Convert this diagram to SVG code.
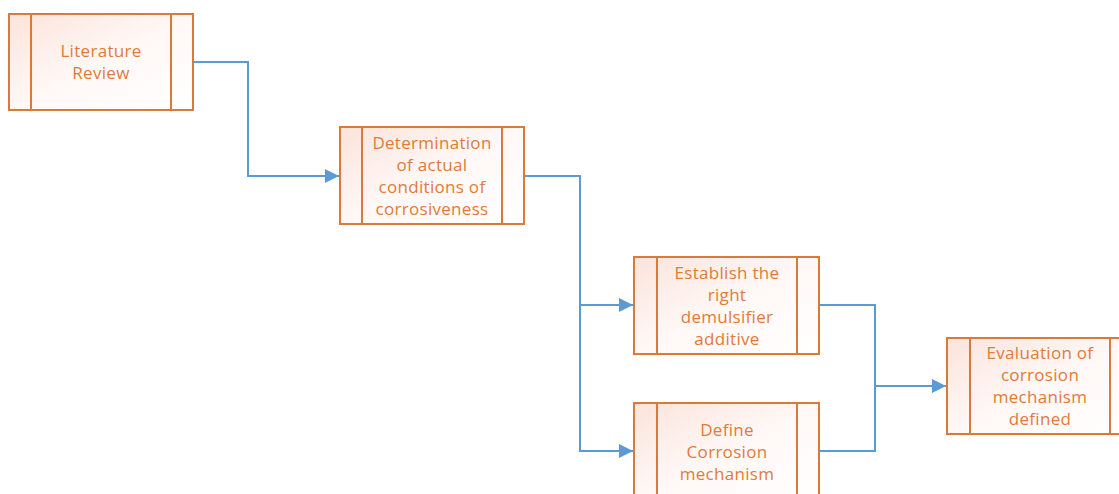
<svg xmlns="http://www.w3.org/2000/svg" width="1119" height="494" viewBox="0 0 1119 494">
<style>
.box{fill:url(#g);stroke:#D97A3A;stroke-width:2}
.ln{stroke:#D97A3A;stroke-width:2}
.t{font-family:"Open Sans","Liberation Sans",sans-serif;font-size:17px;letter-spacing:0.3px;fill:#E07B39;text-anchor:middle}
.c{fill:none;stroke:#5B9BD5;stroke-width:2}
</style>
<defs>
<linearGradient id="g" x1="0" y1="0" x2="1" y2="1">
<stop offset="0" stop-color="#FBE3DA"/>
<stop offset="0.5" stop-color="#FFF8F6"/>
<stop offset="1" stop-color="#FFFFFF"/>
</linearGradient>
<marker id="a" viewBox="0 0 10 10" refX="10" refY="5" markerWidth="8" markerHeight="7" markerUnits="strokeWidth" orient="auto">
<path d="M0,0 L10,5 L0,10 z" fill="#5B9BD5"/>
</marker>
</defs>
<g id="connectors">
<path class="c" d="M193,62 H248 V176 H339" marker-end="url(#a)"/>
<path class="c" d="M524,176 H580 V451 H633" marker-end="url(#a)"/>
<path class="c" d="M580,305 H633" marker-end="url(#a)"/>
<path class="c" d="M819,305 H875 V451 H819"/>
<path class="c" d="M875,386 H946" marker-end="url(#a)"/>
</g>
<g id="n1">
<rect class="box" x="9" y="14" width="184" height="96"/>
<line class="ln" x1="31" y1="14" x2="31" y2="110"/>
<line class="ln" x1="171" y1="14" x2="171" y2="110"/>
<text class="t" x="101" y="57">Literature</text>
<text class="t" x="101" y="79">Review</text>
</g>
<g id="n2">
<rect class="box" x="340" y="127" width="184" height="97"/>
<line class="ln" x1="362" y1="127" x2="362" y2="224"/>
<line class="ln" x1="502" y1="127" x2="502" y2="224"/>
<text class="t" x="432" y="149">Determination</text>
<text class="t" x="432" y="171">of actual</text>
<text class="t" x="432" y="193">conditions of</text>
<text class="t" x="432" y="215">corrosiveness</text>
</g>
<g id="n3">
<rect class="box" x="634" y="257" width="185" height="97"/>
<line class="ln" x1="657" y1="257" x2="657" y2="354"/>
<line class="ln" x1="797" y1="257" x2="797" y2="354"/>
<text class="t" x="727" y="279">Establish the</text>
<text class="t" x="727" y="301">right</text>
<text class="t" x="727" y="323">demulsifier</text>
<text class="t" x="727" y="345">additive</text>
</g>
<g id="n4">
<rect class="box" x="634" y="403" width="185" height="97"/>
<line class="ln" x1="657" y1="403" x2="657" y2="500"/>
<line class="ln" x1="797" y1="403" x2="797" y2="500"/>
<text class="t" x="727" y="436">Define</text>
<text class="t" x="727" y="458">Corrosion</text>
<text class="t" x="727" y="480">mechanism</text>
</g>
<g id="n5">
<rect class="box" x="947" y="338" width="185" height="96"/>
<line class="ln" x1="970" y1="338" x2="970" y2="434"/>
<line class="ln" x1="1110" y1="338" x2="1110" y2="434"/>
<text class="t" x="1040" y="359">Evaluation of</text>
<text class="t" x="1040" y="381">corrosion</text>
<text class="t" x="1040" y="403">mechanism</text>
<text class="t" x="1040" y="425">defined</text>
</g>
</svg>
